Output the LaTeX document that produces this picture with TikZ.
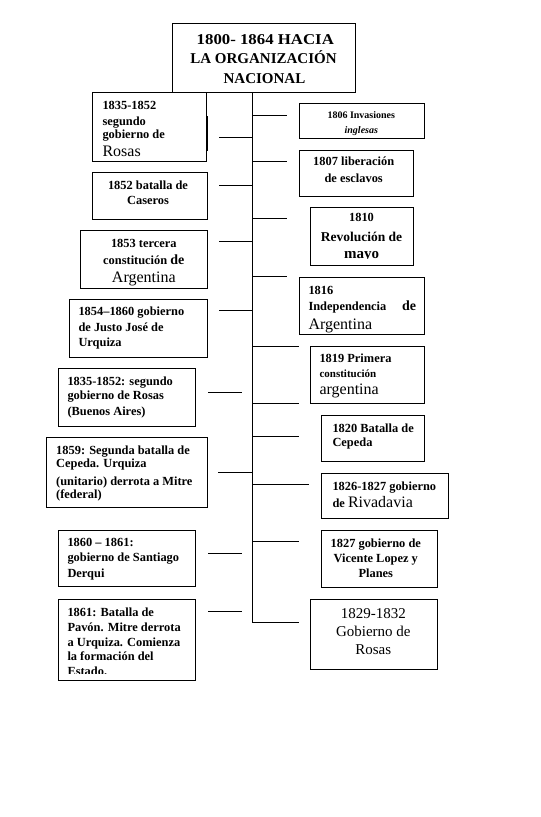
\documentclass[tikz,border=0pt]{standalone}
\usepackage{fontspec}
\setmainfont{Liberation Serif}
\newcommand\myfs[1]{\fontsize{#1}{#1}\selectfont}
\tikzset{
  box/.style={draw, line width=1pt, inner sep=0pt, outer sep=0pt},
  tl/.style={inner sep=0pt, anchor=base west, font=\bfseries\myfs{12.4}},
  tc/.style={inner sep=0pt, anchor=base, font=\bfseries\myfs{12.4}},
  link/.style={line width=1pt},
  big/.style={font=\myfs{16}},
}
\begin{document}
\begin{tikzpicture}[x=1pt,y=-1pt]
\useasboundingbox[fill=white] (0,0) rectangle (541,817);

% title
\node[box, minimum width=183pt, minimum height=69pt] (title) at (263.8,57.8) {};
\node[tc, font=\bfseries\myfs{15}] (t1) at (265.3,44) {\scalebox{1.12}[1]{1800- 1864 HACIA}};
\node[tc, font=\bfseries\myfs{15}] (t2) at (263.5,63.7) {LA ORGANIZACIÓN};
\node[tc, font=\bfseries\myfs{15}] (t3) at (264.5,83) {NACIONAL};

% spine
\coordinate (s0) at (252,92.3);
\coordinate (send) at (252,622.3);
\draw[link] (s0) -- (send);

% ---------- left boxes ----------
\node[box, minimum width=114.4pt, minimum height=68.7pt] (L1) at (149.5,126.65) {};
\coordinate (k1) at (206.7,116); \coordinate (k2) at (206.7,151);
\draw[line width=2.2pt] (k1) -- (k2);
\node[tl] (L1a) at (102.3,109.7) {1835-1852};
\node[tl] (L1b) at (102.3,125.7) {segundo};
\node[tl] (L1c) at (102.3,138.3) {gobierno de};
\node[tl, big] (L1d) at (102.3,156.3) {Rosas};

\node[box, minimum width=114.7pt, minimum height=46.7pt] (L2) at (149.65,195.65) {};
\node[tc] (L2a) at (148,189.7) {1852 batalla de};
\node[tc] (L2b) at (148,204.7) {Caseros};

\node[box, minimum width=126.6pt, minimum height=57.6pt] (L3) at (144,259.5) {};
\node[tc] (L3a) at (143.8,247.3) {1853 tercera};
\node[tc] (L3b) at (143.8,264.5) {constitución {\myfs{14}de}};
\node[tc, big] (L3c) at (143.8,282.6) {Argentina};

\node[box, minimum width=137.6pt, minimum height=58pt] (L4) at (138.5,328.3) {};
\node[tl] (L4a) at (78.3,315.7) {1854--1860 gobierno};
\node[tl] (L4b) at (78.3,331.3) {de Justo José de};
\node[tl] (L4c) at (78.3,346) {Urquiza};

\node[box, minimum width=137pt, minimum height=58pt] (L5) at (126.8,397.3) {};
\node[tl] (L5a) at (67.3,385.7) {1835-1852: segundo};
\node[tl] (L5b) at (67.3,399.7) {gobierno de Rosas};
\node[tl] (L5c) at (67.3,415) {(Buenos Aires)};

\node[box, minimum width=160.6pt, minimum height=70pt] (L6) at (127,472.3) {};
\node[tl] (L6a) at (56,454.7) {1859: Segunda batalla de};
\node[tl] (L6b) at (56,467.3) {Cepeda. Urquiza};
\node[tl] (L6c) at (56,485) {(unitario) derrota a Mitre};
\node[tl] (L6d) at (56,498.3) {(federal)};

\node[box, minimum width=137pt, minimum height=56.7pt] (L7) at (126.8,558.35) {};
\node[tl] (L7a) at (67.3,546.3) {1860 -- 1861:};
\node[tl] (L7b) at (67.3,561.3) {gobierno de Santiago};
\node[tl] (L7c) at (67.3,577.3) {Derqui};

\node[box, minimum width=137pt, minimum height=81pt] (L8) at (126.8,639.5) {};
\begin{scope}
\clip ([yshift=6.5pt]L8.south west) rectangle (L8.north east);
\node[tl] (L8a) at (67.3,616.3) {1861: Batalla de};
\node[tl] (L8b) at (67.3,631.3) {Pavón. Mitre derrota};
\node[tl] (L8c) at (67.3,646.3) {a Urquiza. Comienza};
\node[tl] (L8d) at (67.3,660.7) {la formación del};
\node[tl] (L8e) at (67.3,675) {Estado.};
\end{scope}

% ---------- right boxes ----------
\node[box, minimum width=125pt, minimum height=34.7pt] (R1) at (361.8,120.65) {};
\node[tc, font=\bfseries\myfs{10}] (R1a) at (361.3,118.5) {1806 Invasiones};
\node[tc, font=\bfseries\itshape\myfs{10}] (R1b) at (361.3,133) {inglesas};

\node[box, minimum width=114pt, minimum height=45.3pt] (R2) at (356.3,173.35) {};
\node[tc] (R2a) at (353.7,165.7) {1807 liberación};
\node[tc] (R2b) at (353.7,182) {de esclavos};

\node[box, minimum width=103.3pt, minimum height=57.7pt] (R3) at (361.65,236.15) {};
\begin{scope}
\clip ([yshift=6.5pt]R3.south west) rectangle (R3.north east);
\node[tc] (R3a) at (361.5,221.7) {1810};
\node[tc, font=\bfseries\myfs{13.5}] (R3b) at (361.5,241.2) {Revolución de};
\node[tc, font=\bfseries\myfs{15}] (R3c) at (361.5,258) {mayo};
\end{scope}

\node[box, minimum width=125pt, minimum height=57pt] (R4) at (361.8,305.8) {};
\begin{scope}
\clip ([yshift=0.5pt]R4.south west) rectangle (R4.north east);
\node[tl] (R4a) at (308.3,294) {1816};
\node[tl] (R4b) at (308.3,310.7) {\makebox[107.7pt][l]{Independencia\hfill{\myfs{14}de}}};
\node[tl, big] (R4c) at (308.3,329.6) {Argentina};
\end{scope}

\node[box, minimum width=114.3pt, minimum height=57pt] (R5) at (367.15,374.8) {};
\node[tl] (R5a) at (319.3,362.3) {1819 Primera};
\node[tl, font=\bfseries\myfs{11}] (R5b) at (319.3,377.3) {constitución};
\node[tl, big] (R5c) at (319.3,394.6) {argentina};

\node[box, minimum width=102.6pt, minimum height=46pt] (R6) at (373,438.7) {};
\node[tl] (R6a) at (332.3,432.3) {1820 Batalla de};
\node[tl] (R6b) at (332.3,446.3) {Cepeda};

\node[box, minimum width=126.6pt, minimum height=45pt] (R7) at (385,495.8) {};
\node[tl] (R7a) at (332.3,490) {1826-1827 gobierno};
\node[tl] (R7b) at (332.3,507.3) {de {\mdseries\myfs{16}Rivadavia}};

\node[box, minimum width=116pt, minimum height=57.3pt] (R8) at (379.7,558.65) {};
\node[tc] (R8a) at (375.8,547.3) {1827 gobierno de};
\node[tc] (R8b) at (375.8,562.3) {Vicente Lopez y};
\node[tc] (R8c) at (375.8,577.3) {Planes};

\node[box, minimum width=127.7pt, minimum height=70.3pt] (R9) at (373.85,634.15) {};
\node[tc, font=\myfs{15}] (R9a) at (373.3,618.3) {1829-1832};
\node[tc, font=\myfs{15}] (R9b) at (373.3,636.7) {Gobierno de};
\node[tc, font=\myfs{15}] (R9c) at (373.3,654.3) {Rosas};

% ---------- connectors: right ----------
\coordinate (sr1) at (252,115);   \coordinate (er1) at (287,115);
\coordinate (sr2) at (252,161);   \coordinate (er2) at (287,161);
\coordinate (sr3) at (252,218);   \coordinate (er3) at (287,218);
\coordinate (sr4) at (252,276.7); \coordinate (er4) at (287,276.7);
\coordinate (sr5) at (252,346.3); \coordinate (er5) at (298.7,346.3);
\coordinate (sr6) at (252,403);   \coordinate (er6) at (298.7,403);
\coordinate (sr7) at (252,436.7); \coordinate (er7) at (298.7,436.7);
\coordinate (sr8) at (252,484);   \coordinate (er8) at (309.3,484);
\coordinate (sr9) at (252,541.7); \coordinate (er9) at (298.7,541.7);
\coordinate (er10) at (298.7,622.3);
\foreach \i in {1,...,9} {\draw[link] (sr\i) -- (er\i);}
\draw[link] (send) -- (er10);

% ---------- connectors: left ----------
\coordinate (sl1) at (252,137.7); \coordinate (el1) at (219.3,137.7);
\coordinate (sl2) at (252,185);   \coordinate (el2) at (219.3,185);
\coordinate (sl3) at (252,241);   \coordinate (el3) at (219.3,241);
\coordinate (sl4) at (252,310);   \coordinate (el4) at (219.3,310);
\coordinate (sl5) at (252,472.7); \coordinate (el5) at (218.3,472.7);
\foreach \i in {1,...,5} {\draw[link] (sl\i) -- (el\i);}
\coordinate (fa1) at (208.3,392.3); \coordinate (fb1) at (242,392.3);
\coordinate (fa2) at (208.3,553.3); \coordinate (fb2) at (242,553.3);
\coordinate (fa3) at (208.3,611);   \coordinate (fb3) at (242,611);
\foreach \i in {1,2,3} {\draw[link] (fa\i) -- (fb\i);}
\end{tikzpicture}
\end{document}
